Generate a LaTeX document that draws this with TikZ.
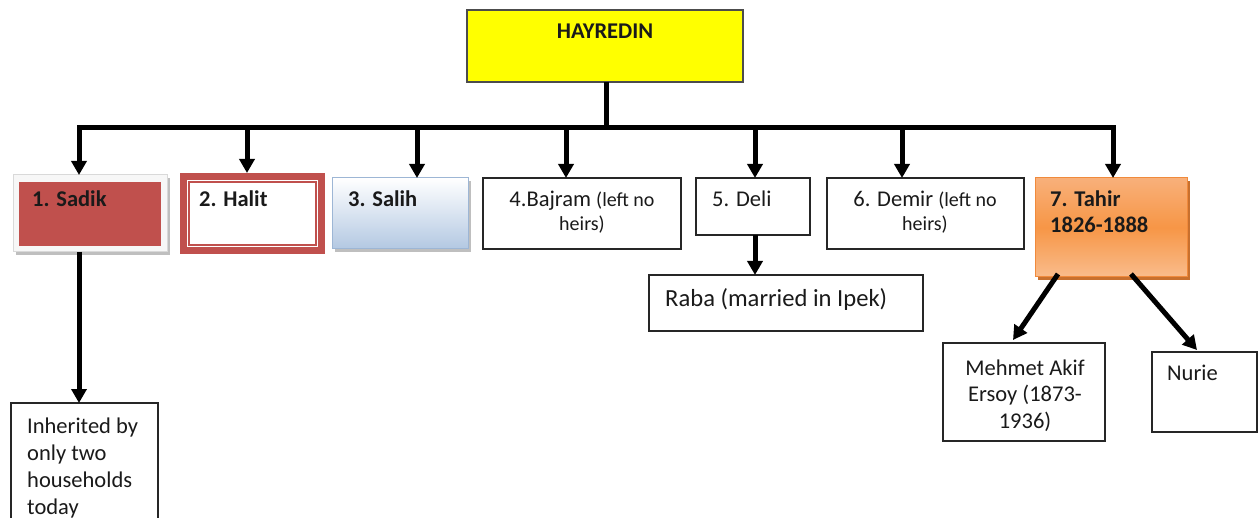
\documentclass[tikz,border=0pt]{standalone}
\usepackage{fontspec}
\setmainfont{Carlito}
\usetikzlibrary{arrows.meta}
\definecolor{redacc}{HTML}{C0504D}
\definecolor{hyellow}{HTML}{FFFF00}
\definecolor{bluetop}{HTML}{FFFFFF}
\definecolor{bluebot}{HTML}{B3C8E2}
\definecolor{blueline}{HTML}{9DB6D5}
\definecolor{orgtop}{HTML}{F8B07A}
\definecolor{orgmid}{HTML}{F79646}
\definecolor{orgbot}{HTML}{F9BC8C}
\definecolor{orgline}{HTML}{F08A3C}
\definecolor{orgshadow}{HTML}{C8702E}
\definecolor{txt}{HTML}{1A1A1A}
\tikzset{
  plain/.style={draw=black!85, line width=1.3pt, fill=white, inner sep=0pt, outer sep=0pt, anchor=north west},
  conn/.style={line width=5pt, draw=black},
  arr/.style={line width=5pt, draw=black, -{Triangle[width=15pt,length=14pt]}},
  lbl/.style={anchor=base west, inner sep=0pt, text=txt, font=\fontsize{22.5}{27}\selectfont},
  clbl/.style={anchor=base, inner sep=0pt, text=txt, font=\fontsize{22.5}{27}\selectfont},
  blbl/.style={anchor=base west, inner sep=0pt, text=txt, font=\fontsize{22.5}{27}\selectfont\bfseries},
  shadowbox/.style={fill=black!30, draw=none, inner sep=0pt, outer sep=0pt, anchor=north west}
}
\newcommand\sm[1]{{\fontsize{20}{24}\selectfont #1}}
\begin{document}
\begin{tikzpicture}[x=1pt,y=-1pt]
\clip (0,0) rectangle (1258,518);
\useasboundingbox (0,0) rectangle (1258,518);

% HAYREDIN
\node[plain, fill=hyellow, draw=black!70, minimum width=276pt, minimum height=72pt] (hay) at (467,10) {};
\node[clbl, font=\fontsize{22.5}{27}\selectfont\bfseries] (hayt) at (605,39) {HAYREDIN};

% 1. Sadik
\node[shadowbox, fill=black!25, minimum width=154pt, minimum height=77pt] (sadiksh) at (16,178) {};
\node[plain, draw=black!15, line width=1pt, fill=black!3, minimum width=154pt, minimum height=77pt] (sadik) at (13,175) {};
\node[plain, draw=none, fill=redacc, minimum width=142pt, minimum height=64pt] (sadikin) at (19,182) {};
\node[blbl] (sadikt) at (32,207) {1. Sadik};

% 2. Halit
\node[plain, draw=none, fill=redacc, minimum width=145pt, minimum height=81pt] (halit) at (180,173) {};
\node[plain, draw=none, fill=white, minimum width=131pt, minimum height=67pt] (halitin) at (187,180) {};
\node[plain, draw=redacc, line width=1.3pt, fill=white, minimum width=127pt, minimum height=63pt] (halitln) at (189,182) {};
\node[blbl] (halitt) at (199,207) {2. Halit};

% 3. Salih
\node[shadowbox, fill=black!25, minimum width=136pt, minimum height=71pt] (salihsh) at (335,181) {};
\node[plain, draw=blueline, line width=1pt, top color=bluetop, bottom color=bluebot, minimum width=136pt, minimum height=71pt] (salih) at (332,178) {};
\node[blbl] (saliht) at (348,207) {3. Salih};

% 4. Bajram
\node[plain, minimum width=198pt, minimum height=71pt] (bajram) at (483,178) {};
\node[clbl] (bajramt1) at (582,207) {4.Bajram \sm{(left no}};
\node[clbl] (bajramt2) at (582,231) {\sm{heirs)}};

% 5. Deli
\node[plain, minimum width=114pt, minimum height=57pt] (deli) at (696,178) {};
\node[lbl] (delit) at (712,207) {5. Deli};

% Raba
\node[plain, minimum width=274pt, minimum height=56pt] (raba) at (649,275) {};
\node[lbl, font=\fontsize{24.6}{29}\selectfont] (rabat) at (665,307) {Raba (married in Ipek)};

% 6. Demir
\node[plain, minimum width=197pt, minimum height=71pt] (demir) at (827,178) {};
\node[clbl] (demirt1) at (925,207) {6. Demir \sm{(left no}};
\node[clbl] (demirt2) at (925,231) {\sm{heirs)}};

% 7. Tahir
\node[shadowbox, fill=orgshadow, minimum width=152pt, minimum height=99pt] (tahirsh) at (1038,181) {};
\node[plain, draw=orgline, line width=1pt, top color=orgtop, bottom color=orgbot, middle color=orgmid, minimum width=152pt, minimum height=99pt] (tahir) at (1035,178) {};
\node[blbl] (tahirt1) at (1050,207) {7. Tahir};
\node[blbl] (tahirt2) at (1050,233) {1826-1888};

% Mehmet Akif Ersoy
\node[plain, minimum width=162pt, minimum height=98pt] (mehmet) at (943,343) {};
\node[clbl] (mehmett1) at (1025,375) {Mehmet Akif};
\node[clbl] (mehmett2) at (1025,402) {Ersoy (1873-};
\node[clbl] (mehmett3) at (1025,428) {1936)};

% Nurie
\node[plain, minimum width=105pt, minimum height=80pt] (nurie) at (1152,352) {};
\node[lbl] (nuriet) at (1167,381) {Nurie};

% Inherited
\node[plain, minimum width=147pt, minimum height=130pt] (inherit) at (11,403) {};
\node[lbl] (inht1) at (27,433) {Inherited by};
\node[lbl] (inht2) at (27,460) {only two};
\node[lbl] (inht3) at (27,487) {households};
\node[lbl] (inht4) at (27,514) {today};

% connectors
\coordinate (bar) at (606,128);
\coordinate (d1) at (79,128);
\coordinate (d2) at (247,128);
\coordinate (d3) at (417,128);
\coordinate (d4) at (566,128);
\coordinate (d5) at (755,128);
\coordinate (d6) at (902,128);
\coordinate (d7) at (1113,128);

\draw[conn] (bar |- hay.south) -- (bar);
\draw[conn, line cap=rect] (d1) -- (d7);
\draw[arr] (d1) -- (d1 |- sadik.north);
\draw[arr] (d2) -- (d2 |- halit.north);
\draw[arr] (d3) -- (d3 |- salih.north);
\draw[arr] (d4) -- (d4 |- bajram.north);
\draw[arr] (d5) -- (d5 |- deli.north);
\draw[arr] (d6) -- (d6 |- demir.north);
\draw[arr] (d7) -- (d7 |- tahir.north);

\draw[arr] (d5 |- deli.south) -- (d5 |- raba.north);
\draw[arr] (d1 |- sadik.south) -- (d1 |- inherit.north);

\draw[arr] ([xshift=23pt,yshift=3pt]tahir.south west) -- ([xshift=70pt,yshift=3pt]mehmet.north west);
\draw[arr] ([xshift=-56pt,yshift=3pt]tahir.south east) -- ([xshift=45pt,yshift=2pt]nurie.north west);
\end{tikzpicture}
\end{document}
